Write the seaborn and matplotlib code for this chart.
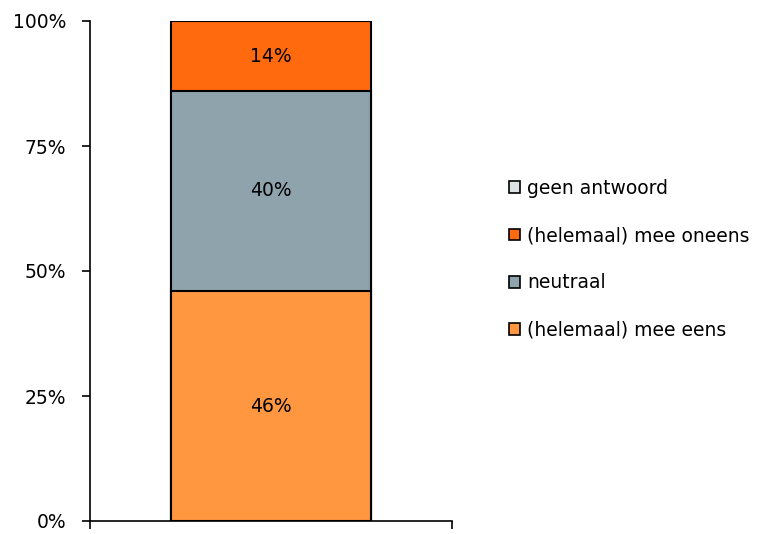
import numpy as np
import pandas as pd
import seaborn as sns
import matplotlib.pyplot as plt
from matplotlib.patches import Patch

# data (bottom -> top)
categories = ["(helemaal) mee eens", "neutraal", "(helemaal) mee oneens", "geen antwoord"]
values = [46, 40, 14, 0]
colors = ["#FF9640", "#8EA3AC", "#FF6A0E", "#DDE3E3"]

sns.set_style("white")
plt.rcParams['font.family'] = ['DejaVu Sans']
plt.rcParams['text.color'] = 'black'
plt.rcParams['xtick.color'] = 'black'
plt.rcParams['ytick.color'] = 'black'

fs = 13.5
fig = plt.figure(figsize=(7.57, 5.34), dpi=100)
ax = fig.add_axes([90 / 757, 1 - 521 / 534, 362 / 757, 500 / 534])

cum = np.cumsum(values)
df = pd.DataFrame({"groep": [""] * len(values), "cum": cum, "cat": categories})
# draw cumulative bars from top to bottom so they stack visually
for i in range(len(values) - 1, -1, -1):
    if values[i] <= 0:
        continue
    sns.barplot(data=df.iloc[[i]], x="groep", y="cum", color=colors[i],
                width=200 / 362, edgecolor="black", linewidth=1.5,
                saturation=1, ax=ax)

for i, v in enumerate(values):
    if v > 0:
        ax.text(0, cum[i] - v / 2, f"{v}%", ha="center", va="center", fontsize=fs)

ax.set_xlim(-0.5, 0.5)
ax.set_ylim(0, 100)
ax.set_yticks([0, 25, 50, 75, 100])
ax.set_yticklabels(["0%", "25%", "50%", "75%", "100%"], fontsize=fs)
ax.set_xticks([-0.5, 0.5])
ax.set_xticklabels(["", ""])
ax.set_xlabel("")
ax.set_ylabel("")
ax.tick_params(axis="both", direction="out", length=6, width=1.2, color="black",
               left=True, bottom=True)
ax.tick_params(axis="y", pad=11)
for s in ["top", "right"]:
    ax.spines[s].set_visible(False)
for s in ["left", "bottom"]:
    ax.spines[s].set_color("black")
    ax.spines[s].set_linewidth(1.2)

handles = [Patch(facecolor=colors[i], edgecolor="black", linewidth=1.2, label=categories[i])
           for i in range(len(categories) - 1, -1, -1)]
fig.legend(handles=handles, loc="upper left", bbox_to_anchor=(509 / 757, 1 - 179 / 534),
           frameon=False, fontsize=fs, handlelength=0.6, handleheight=0.6,
           handletextpad=0.35, labelspacing=1.5, borderaxespad=0, borderpad=0)

fig.savefig("out.png", dpi=100)
